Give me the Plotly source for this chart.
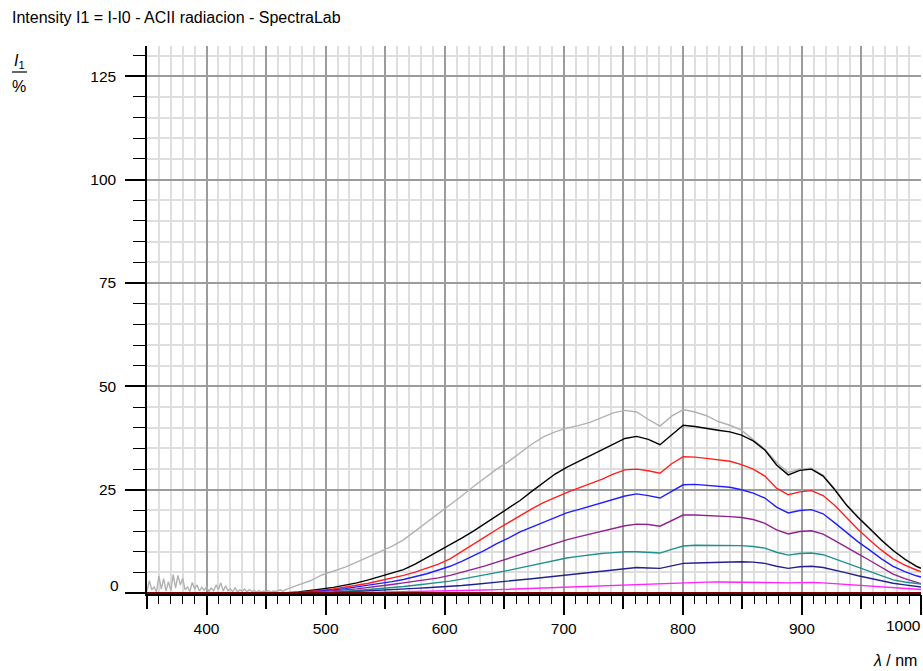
import plotly.graph_objects as go

# ---------------- data ----------------
# wavelengths (nm) at which the curves were read off the picture
wl = [350.0, 359.8, 369.6, 379.4, 389.2, 399.0, 408.7, 418.5, 428.3, 438.1,
      447.9, 457.7, 467.5, 477.3, 487.1, 496.9, 506.6, 516.4, 526.2, 536.0,
      545.8, 555.6, 565.4, 575.2, 585.0, 594.8, 604.5, 614.3, 624.1, 633.9,
      643.7, 653.5, 663.3, 673.1, 682.9, 692.7, 702.4, 712.2, 722.0, 731.8,
      741.6, 751.4, 761.2, 771.0, 780.8, 790.6, 800.3, 810.1, 819.9, 829.7,
      839.5, 849.3, 859.1, 868.9, 878.7, 888.5, 898.2, 908.0, 917.8, 927.6,
      937.4, 947.2, 957.0, 966.8, 976.6, 986.4, 996.1, 1000.0]

# gray curve: noisy start (2 nm steps) then the common grid from 467.5 nm
gray_noise_wl = list(range(350, 466, 2))
gray_noise = [0.5, 3.0, 0.8, 1.5, 0.3, 4.2, 1.0, 3.5, 0.5, 2.8,
              0.6, 4.5, 1.2, 4.3, 2.0, 3.6, 0.8, 1.5, 0.4, 2.6,
              1.0, 2.0, 0.5, 1.4, 0.7, 1.6, 0.4, 1.2, 0.6, 2.0,
              0.9, 2.5, 0.5, 1.8, 0.6, 1.0, 0.4, 1.3, 0.3, 0.8,
              0.5, 1.0, 0.3, 0.9, 0.4, 0.7, 0.2, 0.6, 0.3, 0.5,
              0.3, 0.6, 0.2, 0.5, 0.4, 0.6, 0.8, 0.5]
gray_main = [1.0, 2.0, 3.0, 4.4, 5.3, 6.3, 7.5, 8.8,
             10.2, 11.3, 12.9, 15.0, 17.2, 19.3, 21.2, 23.5, 25.8, 28.0,
             30.0, 31.8, 34.0, 36.0, 37.8, 39.0, 39.9, 40.5, 41.3, 42.4,
             43.6, 44.2, 43.8, 42.0, 40.4, 42.8, 44.4, 43.8, 42.9, 41.5,
             40.6, 39.4, 37.2, 34.8, 31.6, 29.2, 30.0, 30.2, 28.5, 25.2,
             21.4, 18.4, 15.7, 12.9, 10.4, 8.3, 6.6, 6.1]

black = [0, 0, 0, 0, 0, 0, 0, 0, 0, 0,
         0, 0, 0.1, 0.3, 0.6, 1.0, 1.4, 1.9, 2.5, 3.2,
         4.0, 4.8, 5.7, 7.0, 8.6, 10.0, 11.6, 13.3, 15.0, 16.8,
         18.6, 20.5, 22.4, 24.6, 26.8, 28.8, 30.4, 31.8, 33.2, 34.6,
         36.2, 37.4, 37.9, 37.2, 35.9, 38.3, 40.6, 40.3, 39.8, 39.4,
         39.0, 38.2, 36.8, 34.6, 31.0, 28.6, 29.7, 30.0, 28.3, 25.0,
         21.3, 18.3, 15.6, 12.8, 10.3, 8.2, 6.5, 6.0]

red = [0, 0, 0, 0, 0, 0, 0, 0, 0, 0,
       0, 0, 0, 0.2, 0.4, 0.7, 1.0, 1.4, 1.9, 2.4,
       3.0, 3.6, 4.3, 5.1, 6.0, 7.0, 8.3, 10.0, 11.8, 13.6,
       15.4, 17.1, 18.8, 20.4, 21.9, 23.2, 24.3, 25.4, 26.5, 27.5,
       28.8, 29.8, 30.0, 29.6, 29.0, 31.3, 33.0, 32.9, 32.6, 32.3,
       31.9, 31.1, 30.0, 28.3, 25.4, 23.8, 24.5, 24.8, 23.6, 21.2,
       18.2, 15.4, 12.8, 10.4, 8.3, 6.8, 5.6, 5.2]

blue = [0, 0, 0, 0, 0, 0, 0, 0, 0, 0,
        0, 0, 0, 0.15, 0.3, 0.5, 0.8, 1.1, 1.5, 1.9,
        2.3, 2.8, 3.3, 4.0, 4.7, 5.6, 6.5, 7.7, 9.0, 10.4,
        12.0, 13.3, 14.8, 16.0, 17.2, 18.4, 19.4, 20.2, 21.0, 21.8,
        22.7, 23.5, 24.0, 23.6, 23.0, 24.6, 26.2, 26.3, 26.1, 25.9,
        25.6, 25.0, 24.2, 23.0, 20.8, 19.4, 20.0, 20.2, 19.2, 17.0,
        14.6, 12.4, 10.4, 8.3, 6.5, 5.2, 4.2, 3.9]

purple = [0, 0, 0, 0, 0, 0, 0, 0, 0, 0,
          0, 0, 0, 0.1, 0.2, 0.35, 0.55, 0.8, 1.05, 1.35,
          1.7, 2.1, 2.5, 2.9, 3.3, 3.7, 4.3, 5.0, 5.8, 6.6,
          7.5, 8.4, 9.3, 10.2, 11.1, 12.0, 12.9, 13.6, 14.3, 14.9,
          15.6, 16.3, 16.7, 16.6, 16.2, 17.6, 18.9, 18.9, 18.8, 18.7,
          18.5, 18.3, 17.8, 16.9, 15.3, 14.3, 14.9, 15.1, 14.3, 12.7,
          11.0, 9.5, 7.9, 6.2, 4.6, 3.5, 2.6, 2.3]

teal = [0, 0, 0, 0, 0, 0, 0, 0, 0, 0,
        0, 0, 0, 0.05, 0.1, 0.2, 0.3, 0.45, 0.65, 0.9,
        1.1, 1.35, 1.6, 1.9, 2.2, 2.5, 2.9, 3.4, 3.9, 4.4,
        4.9, 5.5, 6.1, 6.7, 7.3, 7.9, 8.5, 8.9, 9.3, 9.6,
        9.8, 10.0, 10.0, 9.8, 9.7, 10.6, 11.4, 11.6, 11.6, 11.6,
        11.6, 11.5, 11.3, 10.9, 9.9, 9.2, 9.6, 9.7, 9.3, 8.3,
        7.2, 6.2, 5.2, 4.2, 3.2, 2.7, 2.3, 2.2]

navy = [0, 0, 0, 0, 0, 0, 0, 0, 0, 0,
        0, 0, 0, 0.03, 0.06, 0.1, 0.18, 0.28, 0.4, 0.55,
        0.7, 0.85, 1.0, 1.15, 1.3, 1.45, 1.6, 1.85, 2.1, 2.35,
        2.6, 2.9, 3.2, 3.5, 3.8, 4.1, 4.5, 4.8, 5.1, 5.4,
        5.7, 6.0, 6.2, 6.1, 6.0, 6.6, 7.2, 7.3, 7.4, 7.5,
        7.6, 7.6, 7.5, 7.2, 6.5, 6.0, 6.4, 6.5, 6.2, 5.6,
        4.9, 4.2, 3.6, 3.0, 2.4, 2.0, 1.6, 1.5]

magenta = [0, 0, 0, 0, 0, 0, 0, 0, 0, 0,
           0, 0, 0, 0.02, 0.04, 0.06, 0.09, 0.12, 0.16, 0.2,
           0.24, 0.28, 0.34, 0.4, 0.45, 0.5, 0.56, 0.62, 0.69, 0.76,
           0.85, 0.95, 1.05, 1.15, 1.25, 1.35, 1.48, 1.6, 1.72, 1.85,
           1.98, 2.1, 2.15, 2.2, 2.25, 2.5, 2.6, 2.65, 2.68, 2.7,
           2.7, 2.7, 2.68, 2.65, 2.55, 2.5, 2.58, 2.6, 2.5, 2.3,
           2.1, 1.9, 1.7, 1.5, 1.3, 1.15, 0.95, 0.9]

maroon = [0.0] * len(wl)

x_major_ticks = list(range(350, 1001, 50))
x_label_ticks = [400, 500, 600, 700, 800, 900, 1000]
y_ticks = [0, 25, 50, 75, 100, 125]

for name, arr in [("black", black), ("red", red), ("blue", blue), ("purple", purple),
                  ("teal", teal), ("navy", navy), ("magenta", magenta)]:
    if len(arr) != len(wl):
        raise ValueError(f"{name} has {len(arr)} values, expected {len(wl)}")
assert len(gray_noise) == len(gray_noise_wl)
assert len(gray_main) == len(wl[12:])

gray_wl = gray_noise_wl + wl[12:]
gray = gray_noise + gray_main

series = [
    (gray_wl, gray, "#b2b2b2", 1.4),
    (wl, black, "#000000", 1.4),
    (wl, red, "#ff1f1f", 1.4),
    (wl, blue, "#1f1fff", 1.4),
    (wl, purple, "#912191", 1.4),
    (wl, teal, "#1f9090", 1.4),
    (wl, navy, "#22228f", 1.4),
    (wl, magenta, "#ff22ff", 1.4),
    (wl, maroon, "#7a0000", 2.2),
]

fig = go.Figure()
for xs, ys, col, w in series:
    fig.add_trace(go.Scatter(x=xs, y=ys, mode="lines", line=dict(color=col, width=w),
                             showlegend=False, hoverinfo="skip"))
# invisible trace on the overlay (label) axis
fig.add_trace(go.Scatter(x=[None], y=[None], xaxis="x2", yaxis="y",
                         showlegend=False, hoverinfo="skip"))

FONT = "Liberation Sans, Arial, sans-serif"
TS = 15.5
XR = [350, 1000]
YR = [-0.2, 132.3]
L, R, T, B = 147, 2, 46, 77
PW, PH = 923 - L - R, 671 - T - B


def px(x):
    return (x - L) / PW


def py(y):
    return (671 - B - y) / PH


fig.update_layout(
    width=923, height=671,
    margin=dict(l=L, r=R, t=T, b=B, autoexpand=False),
    paper_bgcolor="white", plot_bgcolor="white",
    font=dict(family=FONT, size=TS, color="black"),
    title=dict(text="Intensity I1 = I-I0 - ACII radiacion - SpectraLab",
               x=12 / 923, xanchor="left", xref="container",
               y=1 - 17 / 671, yanchor="middle", yref="container",
               font=dict(family=FONT, size=16, color="black")),
    xaxis=dict(range=XR, tickmode="array", tickvals=x_major_ticks,
               showticklabels=False, ticks="outside", ticklen=13, tickwidth=1.5,
               tickcolor="black", showgrid=True, gridcolor="#9c9c9c", gridwidth=1.5,
               showline=True, linecolor="black", linewidth=1.5, zeroline=False,
               minor=dict(tick0=350, dtick=10, ticks="outside", ticklen=8,
                          tickwidth=1.3, tickcolor="black", showgrid=True,
                          gridcolor="#dedede", gridwidth=1.5)),
    xaxis2=dict(range=XR, overlaying="x", anchor="y", side="bottom",
                tickmode="array", tickvals=x_label_ticks,
                ticktext=["" if v == 1000 else str(v) for v in x_label_ticks],
                ticks="outside", ticklen=20, tickwidth=1.5, tickcolor="black",
                showgrid=False, showline=False, zeroline=False, automargin=False,
                tickfont=dict(family=FONT, size=TS, color="black")),
    yaxis=dict(range=YR, tickmode="array", tickvals=y_ticks,
               ticktext=["" if v == 0 else str(v) for v in y_ticks],
               ticks="outside", ticklen=20, tickwidth=1.5, tickcolor="black",
               showgrid=True, gridcolor="#9c9c9c", gridwidth=1.5,
               showline=True, linecolor="black", linewidth=1.5, zeroline=False,
               ticklabelstandoff=6, automargin=False,
               tickfont=dict(family=FONT, size=TS, color="black"),
               minor=dict(tick0=0, dtick=5, ticks="outside", ticklen=12,
                          tickwidth=1.3, tickcolor="black", showgrid=True,
                          gridcolor="#dedede", gridwidth=1.5)),
)

# "0" label (slightly raised, as in the reference) and "1000" (shifted to fit)
fig.add_annotation(text="0", xref="paper", yref="paper", x=px(121), y=py(585),
                   xanchor="right", yanchor="middle", showarrow=False,
                   font=dict(family=FONT, size=TS, color="black"))
fig.add_annotation(text="1000", xref="paper", yref="paper", x=px(903), y=py(625),
                   xanchor="center", yanchor="middle", showarrow=False,
                   font=dict(family=FONT, size=TS, color="black"))

# y axis title: I1 over %
fig.add_annotation(text="<i>I</i><sub>1</sub>", xref="paper", yref="paper",
                   x=px(19), y=py(61), xanchor="center", yanchor="middle",
                   showarrow=False, font=dict(family=FONT, size=16, color="black"))
fig.add_shape(type="line", xref="paper", yref="paper",
              x0=px(12), x1=px(27), y0=py(72), y1=py(72),
              line=dict(color="black", width=1.2))
fig.add_annotation(text="%", xref="paper", yref="paper",
                   x=px(19), y=py(86), xanchor="center", yanchor="middle",
                   showarrow=False, font=dict(family=FONT, size=16, color="black"))

# x axis title
fig.add_annotation(text="<i>λ</i> / nm", xref="paper", yref="paper",
                   x=px(895), y=py(660), xanchor="center", yanchor="middle",
                   showarrow=False, font=dict(family=FONT, size=16, color="black"))

fig.write_html("out.html")
